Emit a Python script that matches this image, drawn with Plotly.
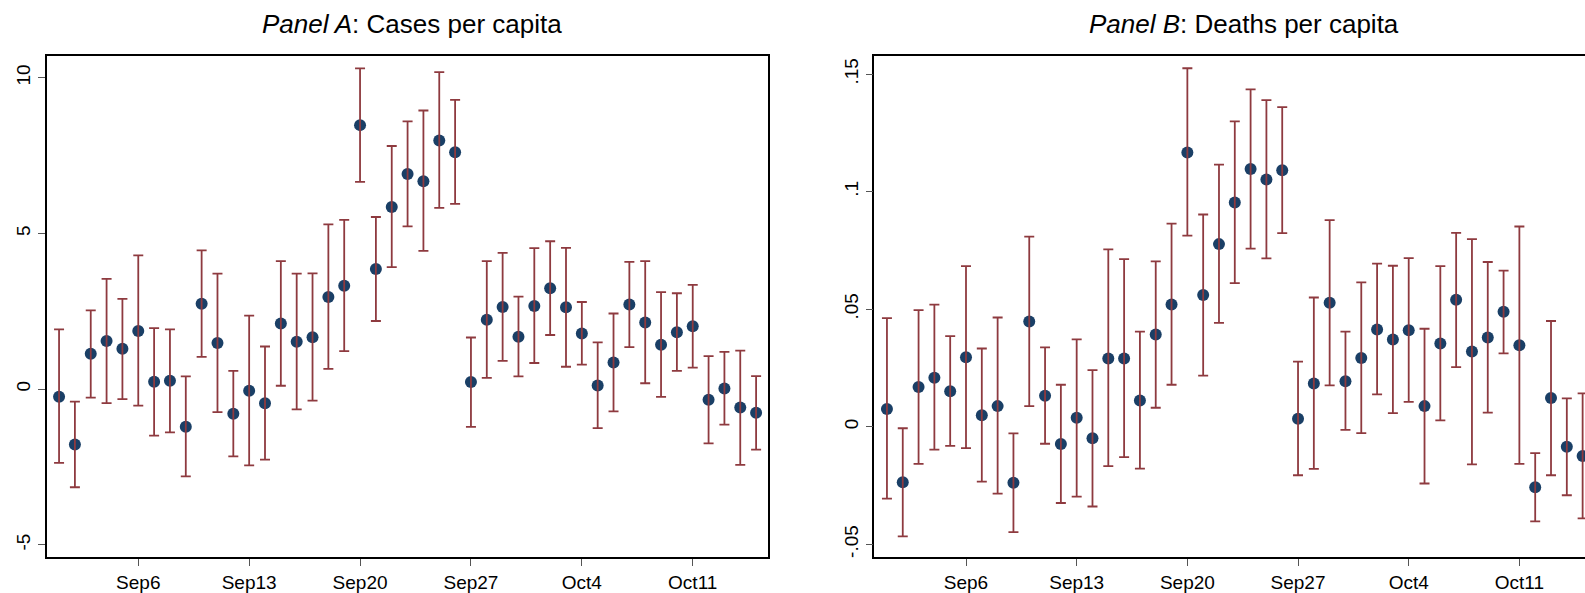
import pandas as pd
import plotly.graph_objects as go

dates = ["2020-09-%02d" % d for d in range(1, 31)] + ["2020-10-%02d" % d for d in range(1, 16)]

cases_est = [-0.24, -1.78, 1.14, 1.55, 1.30, 1.87, 0.24, 0.27, -1.21, 2.74, 1.48, -0.79, -0.05, -0.45, 2.11,
             1.52, 1.67, 2.96, 3.32, 8.48, 3.86, 5.85, 6.91, 6.68, 7.99, 7.61, 0.23, 2.23, 2.64, 1.68,
             2.67, 3.24, 2.63, 1.79, 0.12, 0.86, 2.72, 2.14, 1.43, 1.83, 2.02, -0.34, 0.02, -0.59, -0.76]
cases_hi = [1.92, -0.40, 2.53, 3.54, 2.90, 4.30, 1.96, 1.92, 0.41, 4.46, 3.71, 0.59, 2.36, 1.37, 4.11,
            3.71, 3.72, 5.29, 5.44, 10.30, 5.53, 7.81, 8.60, 8.95, 10.18, 9.29, 1.66, 4.11, 4.38, 2.97,
            4.53, 4.75, 4.54, 2.80, 1.50, 2.43, 4.09, 4.11, 3.12, 3.08, 3.35, 1.06, 1.20, 1.24, 0.42]
cases_lo = [-2.37, -3.15, -0.27, -0.45, -0.32, -0.53, -1.49, -1.39, -2.80, 1.04, -0.74, -2.16, -2.45, -2.26, 0.11,
            -0.65, -0.37, 0.65, 1.22, 6.66, 2.19, 3.92, 5.23, 4.44, 5.82, 5.95, -1.21, 0.36, 0.91, 0.41,
            0.84, 1.74, 0.72, 0.79, -1.25, -0.71, 1.35, 0.19, -0.25, 0.59, 0.69, -1.74, -1.14, -2.43, -1.94]

deaths_est = [0.0076, -0.0236, 0.0169, 0.0209, 0.0151, 0.0296, 0.0049, 0.0088, -0.0238, 0.0448, 0.0132, -0.0073,
              0.0039, -0.0049, 0.0291, 0.0291, 0.0112, 0.0393, 0.0520, 0.1167, 0.0561, 0.0777, 0.0954, 0.1096,
              0.1052, 0.1091, 0.0034, 0.0184, 0.0528, 0.0194, 0.0293, 0.0414, 0.0371, 0.0411, 0.0088, 0.0354,
              0.0540, 0.0320, 0.0380, 0.0489, 0.0347, -0.0257, 0.0123, -0.0085, -0.0124]
deaths_hi = [0.0462, -0.0006, 0.0496, 0.0520, 0.0386, 0.0683, 0.0333, 0.0465, -0.0028, 0.0809, 0.0338, 0.0179,
             0.0372, 0.0241, 0.0755, 0.0713, 0.0405, 0.0704, 0.0864, 0.1525, 0.0903, 0.1115, 0.1299, 0.1435,
             0.1389, 0.1360, 0.0277, 0.0550, 0.0879, 0.0405, 0.0614, 0.0694, 0.0685, 0.0717, 0.0417, 0.0683,
             0.0825, 0.0798, 0.0701, 0.0664, 0.0852, -0.0112, 0.0450, 0.0121, 0.0142]
deaths_lo = [-0.0305, -0.0466, -0.0158, -0.0097, -0.0081, -0.0091, -0.0233, -0.0284, -0.0448, 0.0088, -0.0072,
             -0.0324, -0.0297, -0.0339, -0.0167, -0.0129, -0.0178, 0.0081, 0.0179, 0.0813, 0.0218, 0.0442,
             0.0611, 0.0758, 0.0716, 0.0824, -0.0206, -0.0179, 0.0176, -0.0013, -0.0027, 0.0138, 0.0058,
             0.0106, -0.0241, 0.0027, 0.0254, -0.0160, 0.0060, 0.0312, -0.0158, -0.0402, -0.0206, -0.0291,
             -0.0389]

x_tickvals = ["2020-09-06", "2020-09-13", "2020-09-20", "2020-09-27", "2020-10-04", "2020-10-11"]
x_ticktext = ["Sep6", "Sep13", "Sep20", "Sep27", "Oct4", "Oct11"]
a_tickvals = [-5, 0, 5, 10]
a_ticktext = ["-5", "0", "5", "10"]
b_tickvals = [-0.05, 0, 0.05, 0.1, 0.15]
b_ticktext = ["-.05", "0", ".05", ".1", ".15"]

NAVY = "#1A3F66"
MAROON = "#8E3A3F"
FONT = "Liberation Sans"
W, H = 1585, 593

fig = go.Figure()


def add_panel(est, hi, lo, xa, ya):
    plus = [h - e for h, e in zip(hi, est)]
    minus = [e - l for e, l in zip(est, lo)]
    fig.add_trace(go.Scatter(x=dates, y=est, mode="markers", xaxis=xa, yaxis=ya,
                             marker=dict(color=NAVY, size=12), showlegend=False))
    fig.add_trace(go.Scatter(x=dates, y=est, mode="markers", xaxis=xa, yaxis=ya,
                             marker=dict(color="rgba(0,0,0,0)", size=2), showlegend=False,
                             error_y=dict(type="data", symmetric=False, array=plus, arrayminus=minus,
                                          color=MAROON, thickness=1.8, width=5)))


add_panel(cases_est, cases_hi, cases_lo, "x", "y")
add_panel(deaths_est, deaths_hi, deaths_lo, "x2", "y2")

base = pd.Timestamp("2020-09-06")


def drange(a, b):
    f = "%Y-%m-%d %H:%M:%S"
    return [(base + pd.Timedelta(days=a)).strftime(f), (base + pd.Timedelta(days=b)).strftime(f)]


ytop, ybot = 56.2, 559.2
ydom = [(H - ybot) / H, (H - ytop) / H]

axis_common = dict(showgrid=False, zeroline=False, showline=True, linecolor="black", linewidth=1.5,
                   ticks="outside", ticklen=7, tickwidth=1.3, tickcolor="#555555",
                   tickfont=dict(family=FONT, size=19, color="black"))

fig.update_layout(
    width=W, height=H,
    margin=dict(l=0, r=0, t=0, b=0),
    paper_bgcolor="white", plot_bgcolor="white",
    xaxis=dict(domain=[46.7 / W, 768.3 / W], type="date", range=drange(-5.78, 39.77),
               tickvals=x_tickvals, ticktext=x_ticktext, mirror=True, anchor="y", **axis_common),
    yaxis=dict(domain=ydom, range=[-5.40, 10.70], tickvals=a_tickvals, ticktext=a_ticktext,
               tickangle=-90, mirror=True, anchor="x", **axis_common),
    xaxis2=dict(domain=[874.3 / W, 1.0], type="date", range=drange(-5.80, 39.15),
                tickvals=x_tickvals, ticktext=x_ticktext, mirror=True, anchor="y2", **axis_common),
    yaxis2=dict(domain=ydom, range=[-0.0555, 0.1577], tickvals=b_tickvals, ticktext=b_ticktext,
                tickangle=-90, mirror=False, anchor="x2", **axis_common),
    annotations=[
        dict(text="<i>Panel A</i>: Cases per capita", x=412 / W, y=(H - 24) / H, xref="paper", yref="paper",
             showarrow=False, xanchor="center", yanchor="middle",
             font=dict(family=FONT, size=26, color="black")),
        dict(text="<i>Panel B</i>: Deaths per capita", x=1244 / W, y=(H - 24) / H, xref="paper", yref="paper",
             showarrow=False, xanchor="center", yanchor="middle",
             font=dict(family=FONT, size=26, color="black")),
    ],
)

fig.write_html("out.html")
